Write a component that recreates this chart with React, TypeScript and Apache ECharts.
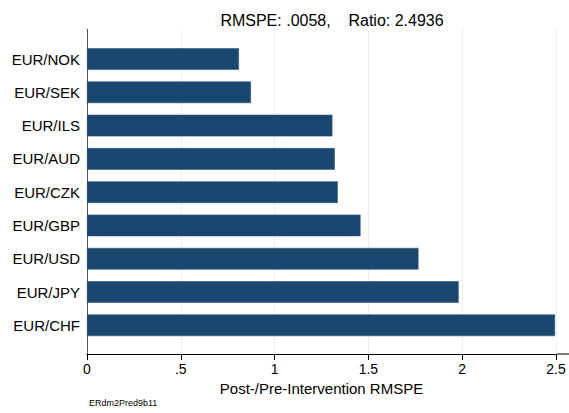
import React, { useEffect, useRef } from "react";
import * as echarts from "echarts";

const categories = ["EUR/NOK", "EUR/SEK", "EUR/ILS", "EUR/AUD", "EUR/CZK", "EUR/GBP", "EUR/USD", "EUR/JPY", "EUR/CHF"];
const ratios = [0.81, 0.874, 1.308, 1.321, 1.337, 1.458, 1.767, 1.981, 2.495];
const tickLabels: Record<string, string> = { "0": "0", "0.5": ".5", "1": "1", "1.5": "1.5", "2": "2", "2.5": "2.5" };
const titleText = "RMSPE: .0058,    Ratio: 2.4936";
const axisTitle = "Post-/Pre-Intervention RMSPE";
const noteText = "ERdm2Pred9b11";

const FONT = "'Liberation Sans', Arial, Helvetica, sans-serif";

export default function App() {
  const ref = useRef<HTMLDivElement>(null);
  useEffect(() => {
    document.body.style.margin = "0";
    const chart = echarts.init(ref.current!, null, { renderer: "svg" });
    const plotLeft = 87;
    const plotRight = 13;
    const frameTop = 29.3;
    const frameBottom = 413 - 354;
    const band = 33.29;
    const barTop = 59 - band / 2;
    chart.setOption({
      animation: false,
      backgroundColor: "#ffffff",
      textStyle: { fontFamily: FONT },
      title: {
        text: titleText,
        left: 327,
        textAlign: "center",
        top: 7,
        textStyle: { fontFamily: FONT, fontSize: 16, fontWeight: "normal", color: "#000" },
      },
      grid: [
        { left: plotLeft, right: plotRight, top: frameTop, bottom: frameBottom },
        { left: plotLeft, right: plotRight, top: barTop, height: band * categories.length },
      ],
      xAxis: [
        {
          gridIndex: 0,
          type: "value",
          min: 0,
          max: 2.5,
          interval: 0.5,
          name: axisTitle,
          nameLocation: "middle",
          nameGap: 24,
          nameTextStyle: { fontFamily: FONT, fontSize: 15, color: "#000", verticalAlign: "top" },
          axisLine: { show: true, lineStyle: { color: "#000", width: 1 } },
          axisTick: { show: true, length: 6, lineStyle: { color: "#000" } },
          axisLabel: {
            margin: 8,
            fontFamily: FONT,
            fontSize: 14,
            color: "#000",
            formatter: (v: number) => tickLabels[String(v)] ?? String(v),
          },
          splitLine: { show: true, lineStyle: { color: "#e8f0f2", width: 1 } },
        },
        {
          gridIndex: 1,
          type: "value",
          min: 0,
          max: 2.5,
          show: false,
        },
      ],
      yAxis: [
        {
          gridIndex: 0,
          type: "value",
          min: 0,
          max: 1,
          axisLine: { show: true, lineStyle: { color: "#555", width: 1 } },
          axisTick: { show: false },
          axisLabel: { show: false },
          splitLine: { show: false },
        },
        {
          gridIndex: 1,
          type: "category",
          inverse: true,
          data: categories,
          axisLine: { show: false },
          axisTick: { show: false },
          axisLabel: { margin: 7, fontFamily: FONT, fontSize: 15, color: "#000" },
          splitLine: { show: false },
        },
      ],
      series: [
        {
          type: "bar",
          xAxisIndex: 1,
          yAxisIndex: 1,
          data: ratios,
          barWidth: "65%",
          itemStyle: { color: "#1a476f", borderColor: "#2b5680", borderWidth: 0.6 },
        },
      ],
      graphic: [
        {
          type: "line",
          shape: { x1: 569 - plotRight, y1: 354, x2: 569, y2: 354 },
          style: { stroke: "#000", lineWidth: 1 },
        },
        {
          type: "text",
          x: 89,
          y: 403,
          style: { text: noteText, fontFamily: FONT, fontSize: 9, fill: "#000", textVerticalAlign: "middle" },
        },
      ],
    });
    return () => chart.dispose();
  }, []);
  return <div ref={ref} style={{ width: 569, height: 413 }} />;
}
